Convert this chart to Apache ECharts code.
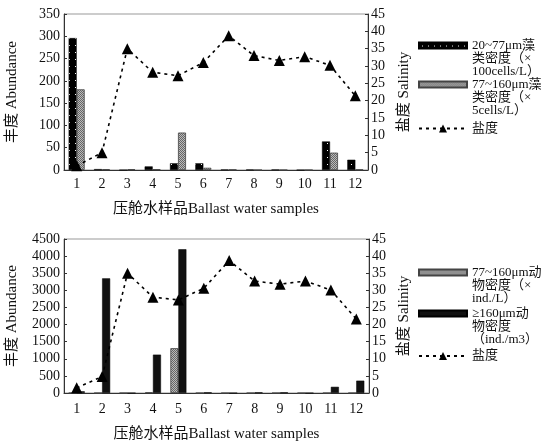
<!DOCTYPE html>
<html><head><meta charset="utf-8">
<script src="https://cdn.jsdelivr.net/npm/echarts@6/dist/echarts.min.js"></script>
<style>html,body{margin:0;padding:0;background:#fff}#c{width:541px;height:448px}</style>
</head><body><div id="c"></div>
<script>
// ---- data ----
const categories = ['1','2','3','4','5','6','7','8','9','10','11','12'];
const algae20to77 = [296, 2, 0, 8, 15, 15, 1, 1, 1, 0, 64, 23];
const algae77to160 = [181, 2, 2, 2, 84, 5, 1, 0, 0, 0, 39, 1];
const zoo77to160 = [0, 0, 0, 20, 1310, 0, 0, 0, 0, 0, 0, 0];
const zooOver160 = [50, 3350, 0, 1120, 4200, 20, 0, 20, 20, 0, 180, 360];
const salinityTop = [1.2, 5, 35, 28.2, 27.2, 31, 38.7, 33, 31.6, 32.7, 30.2, 21.4];
const salinityBottom = [1.5, 4.8, 35, 28, 27.2, 30.6, 38.7, 32.7, 31.8, 32.7, 30.1, 21.6];
const abundanceTopTicks = [0, 50, 100, 150, 200, 250, 300, 350];
const abundanceBottomTicks = [0, 500, 1000, 1500, 2000, 2500, 3000, 3500, 4000, 4500];
const salinityTicks = [0, 5, 10, 15, 20, 25, 30, 35, 40, 45];

const names = {
  a1: '20~77μm藻类密度', a2: '77~160μm藻类密度',
  z1: '77~160μm动物密度', z2: '≥160μm动物密度', s: '盐度'
};
const labels = {};
labels[names.a1] = '20~77μm藻\n类密度（×\n100cells/L）';
labels[names.a2] = '77~160μm藻\n类密度（×\n5cells/L）';
labels[names.z1] = '77~160μm动\n物密度（×\nind./L）';
labels[names.z2] = '≥160μm动\n物密度\n（ind./m3）';
labels[names.s] = '盐度';

// ---- patterns ----
function dotPattern() {
  const c = document.createElement('canvas'); c.width = 6; c.height = 7;
  const g = c.getContext('2d');
  g.fillStyle = '#000'; g.fillRect(0, 0, 6, 7);
  g.fillStyle = '#fff'; g.fillRect(3, 3, 1, 1);
  return c;
}
function grayPattern() {
  const c = document.createElement('canvas'); c.width = 2; c.height = 2;
  const g = c.getContext('2d');
  g.fillStyle = '#bbb'; g.fillRect(0, 0, 2, 2);
  g.fillStyle = '#666'; g.fillRect(0, 0, 1, 1); g.fillRect(1, 1, 1, 1);
  return c;
}
const dotFill = { image: dotPattern(), repeat: 'repeat' };
const grayFill = { image: grayPattern(), repeat: 'repeat' };

const FF = '"Liberation Serif","Times New Roman","Noto Sans CJK SC",serif';
const axisCol = '#333';

function xAxis(gi, margin) {
  return {
    type: 'category', gridIndex: gi, data: categories, boundaryGap: true,
    name: '压舱水样品Ballast water samples', nameLocation: 'middle', nameGap: margin + 25,
    nameTextStyle: { fontFamily: FF, fontSize: 15, color: '#111' },
    axisLine: { lineStyle: { color: axisCol } },
    axisTick: { inside: true, length: 3, lineStyle: { color: axisCol } },
    axisLabel: { fontFamily: FF, fontSize: 14, color: '#111', margin: margin }
  };
}
function yAxis(gi, ticks, name, pos, gap) {
  return {
    type: 'value', gridIndex: gi, position: pos,
    min: ticks[0], max: ticks[ticks.length - 1], interval: ticks[1] - ticks[0],
    name: name, nameLocation: 'middle', nameGap: gap,
    nameTextStyle: { fontFamily: FF, fontSize: 15, color: '#111' },
    splitLine: { show: false },
    axisLine: { show: true, lineStyle: { color: axisCol } },
    axisTick: { show: true, inside: true, length: 3, lineStyle: { color: axisCol } },
    axisLabel: { fontFamily: FF, fontSize: 14, color: '#111', margin: pos === 'left' ? 4 : 3,
      formatter: v => String(v) }
  };
}
function legend(top, name, lines, isLine) {
  const d = { name: name };
  if (!isLine) d.icon = 'rect';
  return {
    left: 418, top: top, orient: 'vertical', padding: 0, selectedMode: false,
    itemWidth: 48, itemHeight: isLine ? 10 : 6, itemGap: 0,
    textStyle: { fontFamily: FF, fontSize: 13, lineHeight: 13, color: '#111' },
    data: [d],
    // leading empty lines keep the first text line level with the icon
    formatter: n => '\n'.repeat(lines - 1) + labels[n]
  };
}
const barBase = { type: 'bar', barWidth: 8, barGap: '0%', animation: false };
const lineBase = {
  type: 'line', symbol: 'triangle', symbolSize: 11, animation: false,
  itemStyle: { color: '#000' },
  lineStyle: { color: '#000', width: 1.6, type: [3, 4] }
};

const option = {
  backgroundColor: '#fff',
  animation: false,
  grid: [
    { left: 64, right: 173, top: 14, bottom: 278, show: true, borderColor: '#999', borderWidth: 1,
      containLabel: false, outerBoundsMode: 'none' },
    { left: 64, right: 172, top: 239, bottom: 55, show: true, borderColor: '#999', borderWidth: 1,
      containLabel: false, outerBoundsMode: 'none' }
  ],
  xAxis: [xAxis(0, 7), xAxis(1, 9)],
  yAxis: [
    yAxis(0, abundanceTopTicks, '丰度 Abundance', 'left', 44),
    yAxis(0, salinityTicks, '盐度 Salinity', 'right', 29),
    yAxis(1, abundanceBottomTicks, '丰度 Abundance', 'left', 44),
    yAxis(1, salinityTicks, '盐度 Salinity', 'right', 27)
  ],
  legend: [
    legend(13, names.a1, 3, false),
    legend(52, names.a2, 3, false),
    legend(122, names.s, 1, true),
    legend(240, names.z1, 3, false),
    legend(281, names.z2, 3, false),
    legend(349.5, names.s, 1, true)
  ],
  series: [
    Object.assign({}, barBase, { name: names.a1, xAxisIndex: 0, yAxisIndex: 0, data: algae20to77,
      itemStyle: { color: dotFill, borderColor: '#000', borderWidth: 0.5 } }),
    Object.assign({}, barBase, { name: names.a2, xAxisIndex: 0, yAxisIndex: 0, data: algae77to160,
      itemStyle: { color: grayFill, borderColor: '#444', borderWidth: 0.8 } }),
    Object.assign({}, lineBase, { name: names.s, xAxisIndex: 0, yAxisIndex: 1, data: salinityTop }),
    Object.assign({}, barBase, { name: names.z1, xAxisIndex: 1, yAxisIndex: 2, data: zoo77to160,
      itemStyle: { color: grayFill, borderColor: '#444', borderWidth: 0.8 } }),
    Object.assign({}, barBase, { name: names.z2, xAxisIndex: 1, yAxisIndex: 2, data: zooOver160,
      itemStyle: { color: '#111', borderColor: '#000', borderWidth: 0.5 } }),
    Object.assign({}, lineBase, { name: names.s, xAxisIndex: 1, yAxisIndex: 3, data: salinityBottom })
  ]
};
const chart = echarts.init(document.getElementById('c'), null, { renderer: 'canvas' });
chart.setOption(option);
</script>
</body></html>
